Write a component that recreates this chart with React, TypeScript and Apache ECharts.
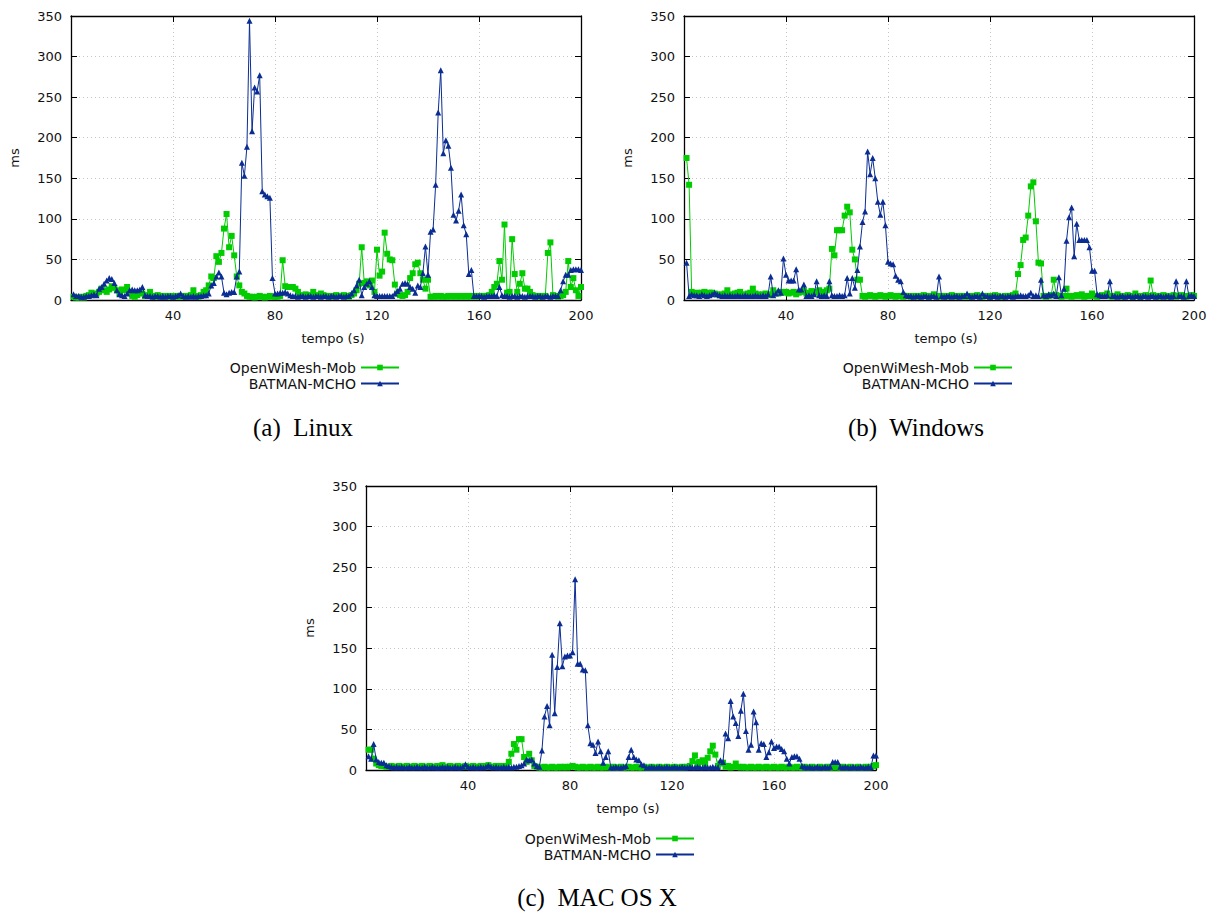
import React, { useEffect, useRef } from 'react';
import * as echarts from 'echarts';

const SERIES_NAMES = ['OpenWiMesh-Mob', 'BATMAN-MCHO'];
const CAPTIONS = ['(a)  Linux', '(b)  Windows', '(c)  MAC OS X'];
const X_NAME = 'tempo (s)';
const Y_NAME = 'ms';

// values for t = 1..200 s
const LINUX_OPEN = [
  4,3,3,4,3,5,6,9,7,8,
  10,14,12,10,13,17,15,12,8,13,
  12,16,10,5,4,6,10,8,5,6,
  10,5,4,6,5,4,5,5,4,5,
  4,5,4,5,4,5,6,12,5,4,
  6,10,12,18,29,27,54,47,58,88,
  106,65,79,55,29,18,10,8,5,4,
  4,3,4,5,4,3,4,5,4,4,
  4,5,49,17,16,16,16,14,10,6,
  5,7,5,6,10,6,5,8,6,5,
  5,4,5,6,5,5,6,5,4,6,
  8,12,20,65,21,23,18,24,10,62,
  30,35,83,57,50,49,19,8,6,5,
  6,10,27,33,44,46,33,25,14,25,
  4,4,5,4,5,4,4,5,4,5,
  4,5,4,5,4,5,4,5,4,5,
  5,5,5,6,10,16,20,48,25,93,
  9,10,75,32,10,20,33,14,14,10,
  6,5,5,4,5,5,58,71,6,5,
  4,5,6,10,48,16,27,12,5,16,
];
const LINUX_BATMAN = [
  7,5,5,4,4,5,5,6,7,6,
  14,16,20,24,27,26,21,12,7,6,
  5,8,12,13,12,12,13,16,6,5,
  5,4,5,5,4,5,4,5,5,4,
  5,6,8,5,4,5,4,5,4,5,
  5,6,6,8,18,21,29,34,29,9,
  7,9,10,10,29,35,169,153,189,344,
  208,262,257,277,134,130,128,126,27,8,
  8,9,9,10,8,6,5,5,4,5,
  5,4,5,5,4,5,5,4,5,5,
  4,5,5,4,5,5,4,5,5,8,
  12,18,25,6,16,20,23,16,6,5,
  5,5,5,5,5,5,8,11,14,20,
  21,20,16,14,9,18,16,33,66,31,
  84,87,142,231,283,181,197,190,163,105,
  98,110,130,92,81,32,37,5,5,5,
  5,4,5,5,5,6,5,16,6,5,
  5,4,5,5,4,5,5,4,5,5,
  5,4,5,5,4,5,5,4,5,5,
  5,12,23,31,31,37,38,38,38,37,
];
const WINDOWS_OPEN = [
  175,142,10,8,9,8,9,10,8,9,
  9,8,7,6,7,8,12,7,6,8,
  9,10,7,6,8,9,14,8,7,6,
  7,8,6,7,12,9,8,10,9,10,
  8,9,10,7,9,10,12,8,9,11,
  10,9,12,10,8,12,14,63,55,86,
  86,86,104,115,108,62,50,25,25,5,
  4,5,6,5,4,5,6,5,4,5,
  6,5,4,5,5,4,5,5,4,5,
  5,4,5,6,5,4,5,7,5,4,
  5,5,4,5,6,5,4,5,5,4,
  5,4,5,5,6,5,4,5,5,4,
  5,6,5,4,4,5,5,5,6,8,
  32,43,74,77,104,140,145,97,46,45,
  5,4,5,6,25,6,5,4,5,14,
  5,4,5,6,5,7,4,5,5,8,
  5,4,5,6,5,8,5,4,5,7,
  5,4,5,6,5,4,8,5,4,5,
  6,5,24,6,5,4,5,6,5,4,
  5,6,4,5,6,5,4,5,6,5,
];
const WINDOWS_BATMAN = [
  46,5,7,6,6,5,7,6,5,6,
  7,9,7,6,5,6,5,6,5,5,
  6,5,5,6,5,5,5,6,5,5,
  6,5,7,29,6,8,12,9,51,31,
  24,24,24,38,13,13,19,5,6,5,
  7,23,6,5,6,5,23,6,5,5,
  6,5,6,27,8,27,15,37,66,96,
  109,183,155,175,150,121,105,121,92,47,
  45,44,30,25,23,10,6,5,5,4,
  5,5,4,5,5,4,5,5,4,29,
  5,4,5,5,4,5,5,4,5,5,
  8,5,4,5,5,4,8,5,5,4,
  5,5,4,5,5,4,5,5,4,5,
  5,6,5,5,6,9,5,6,5,25,
  6,5,7,6,8,5,28,6,14,73,
  102,114,54,94,74,74,74,74,65,36,
  36,7,6,5,5,6,23,5,5,4,
  5,5,4,5,5,4,5,5,4,5,
  5,4,5,5,4,5,5,4,5,5,
  4,5,23,5,5,4,23,5,6,5,
];
const MAC_OPEN = [
  25,25,14,8,6,5,5,4,4,5,
  4,4,5,4,4,5,4,4,5,4,
  4,5,4,4,5,4,4,5,4,6,
  4,4,5,4,4,5,4,4,5,4,
  4,5,4,4,5,4,5,6,4,4,
  5,4,5,4,5,10,20,32,25,38,
  38,16,10,20,12,5,4,3,3,4,
  3,3,4,3,3,4,3,4,3,4,
  5,4,3,3,4,3,3,4,3,3,
  4,3,3,4,3,3,4,3,3,4,
  3,3,4,3,3,4,3,3,4,3,
  3,4,3,3,4,3,3,4,3,3,
  4,3,3,4,3,4,5,11,18,8,
  10,12,8,15,23,30,19,5,8,9,
  4,5,3,4,8,4,3,4,3,3,
  4,3,3,4,3,3,4,3,3,4,
  3,3,4,3,3,4,3,3,4,3,
  3,4,3,3,4,3,3,4,3,3,
  4,3,3,4,3,3,4,3,3,4,
  3,3,4,3,3,4,3,4,5,6,
];
const MAC_BATMAN = [
  17,14,32,13,10,9,9,6,5,4,
  3,4,3,4,3,3,4,3,3,4,
  3,3,4,3,3,4,3,3,3,4,
  3,4,3,3,4,3,3,4,7,4,
  3,4,3,3,4,3,4,6,4,3,
  4,3,3,4,3,4,3,4,4,5,
  6,8,13,12,13,8,5,4,24,66,
  79,55,142,70,127,181,128,140,141,141,
  145,235,131,131,124,123,55,33,31,21,
  35,23,9,16,23,3,3,4,3,3,
  4,5,16,25,16,13,12,7,6,3,
  3,4,3,3,4,3,3,4,3,3,
  4,3,3,4,3,3,4,3,3,4,
  3,3,4,3,3,4,3,3,12,10,
  45,39,85,66,58,42,73,94,48,25,
  31,72,59,25,33,32,16,22,35,27,
  29,29,26,23,14,8,16,17,17,14,
  5,4,3,4,3,3,4,3,3,4,
  3,4,10,10,10,4,3,4,3,3,
  4,3,3,4,3,3,4,3,18,18,
];

const PANELS = [
  { open: LINUX_OPEN, batman: LINUX_BATMAN },
  { open: WINDOWS_OPEN, batman: WINDOWS_BATMAN },
  { open: MAC_OPEN, batman: MAC_BATMAN },
];

const LAYOUT = [
  { left: 71, top: 16, legendRight: 822, legendTop: 360, capX: 303, capY: 427 },
  { left: 684, top: 16, legendRight: 209, legendTop: 360, capX: 916, capY: 427 },
  { left: 366, top: 486, legendRight: 527, legendTop: 831, capX: 597, capY: 897 },
];

const GREEN = '#00cc00';
const BLUE = '#0b2d93';
const FONT = 'DejaVu Sans';

export default function App() {
  const ref = useRef<HTMLDivElement>(null);

  useEffect(() => {
    if (!ref.current) return;
    const chart = echarts.init(ref.current, undefined, { renderer: 'svg' });

    const grids: any[] = [];
    const xAxes: any[] = [];
    const yAxes: any[] = [];
    const series: any[] = [];
    const legends: any[] = [];
    const graphics: any[] = [];

    const tickCommon = { show: true, inside: true, length: 6, lineStyle: { color: '#000', width: 1 } };
    const lineCommon = { show: true, onZero: false, lineStyle: { color: '#000', width: 1.3 } };
    const splitCommon = { show: true, lineStyle: { color: '#c4c4c4', width: 1, type: [1, 3] } };

    PANELS.forEach((p, i) => {
      const L = LAYOUT[i];
      grids.push({ left: L.left, top: L.top, width: 510, height: 284, containLabel: false });
      const xBase = { type: 'value', gridIndex: i, min: 0, max: 200, interval: 40 };
      const yBase = { type: 'value', gridIndex: i, min: 0, max: 350, interval: 50 };
      xAxes.push({
        ...xBase,
        position: 'bottom',
        axisLine: lineCommon,
        axisTick: tickCommon,
        splitLine: splitCommon,
        axisLabel: { showMinLabel: false, fontSize: 13, color: '#111', fontFamily: FONT, margin: 9 },
        name: X_NAME,
        nameLocation: 'middle',
        nameGap: 32,
        nameTextStyle: { fontSize: 13, color: '#111', fontFamily: FONT, padding: [0, 0, 0, 14] },
      });
      xAxes.push({
        ...xBase,
        position: 'top',
        axisLine: lineCommon,
        axisTick: tickCommon,
        splitLine: { show: false },
        axisLabel: { show: false },
      });
      yAxes.push({
        ...yBase,
        position: 'left',
        axisLine: lineCommon,
        axisTick: tickCommon,
        splitLine: splitCommon,
        axisLabel: { fontSize: 13, color: '#111', fontFamily: FONT, margin: 9 },
        name: Y_NAME,
        nameLocation: 'middle',
        nameGap: 50,
        nameRotate: 90,
        nameTextStyle: { fontSize: 13, color: '#111', fontFamily: FONT },
      });
      yAxes.push({
        ...yBase,
        position: 'right',
        axisLine: lineCommon,
        axisTick: tickCommon,
        splitLine: { show: false },
        axisLabel: { show: false },
      });

      series.push({
        name: SERIES_NAMES[0],
        type: 'line',
        xAxisIndex: i * 2,
        yAxisIndex: i * 2,
        data: p.open.map((v, k) => [k + 1, v]),
        symbol: 'rect',
        symbolSize: 6,
        showAllSymbol: true,
        lineStyle: { color: GREEN, width: 1 },
        itemStyle: { color: GREEN, borderWidth: 0 },
        z: 2,
      });
      series.push({
        name: SERIES_NAMES[1],
        type: 'line',
        xAxisIndex: i * 2,
        yAxisIndex: i * 2,
        data: p.batman.map((v, k) => [k + 1, v]),
        symbol: 'triangle',
        symbolSize: 6,
        showAllSymbol: true,
        lineStyle: { color: BLUE, width: 1 },
        itemStyle: { color: BLUE, borderWidth: 0 },
        z: 3,
      });

      legends.push({
        orient: 'vertical',
        align: 'right',
        right: L.legendRight,
        top: L.legendTop,
        itemGap: 1,
        itemWidth: 38,
        itemHeight: 7,
        padding: 0,
        selectedMode: false,
        data: SERIES_NAMES,
        textStyle: { fontSize: 14, lineHeight: 15, color: '#111', fontFamily: FONT },
      });

      graphics.push({
        type: 'text',
        x: L.capX,
        y: L.capY,
        style: {
          text: CAPTIONS[i],
          fontSize: 25,
          fontFamily: 'Liberation Serif',
          fill: '#000',
          align: 'center',
          verticalAlign: 'middle',
          textAlign: 'center',
          textVerticalAlign: 'middle',
        },
      });
    });

    chart.setOption({
      animation: false,
      backgroundColor: '#fff',
      textStyle: { fontFamily: FONT },
      grid: grids,
      xAxis: xAxes,
      yAxis: yAxes,
      series,
      legend: legends,
      graphic: graphics,
    });

    return () => chart.dispose();
  }, []);

  return (
    <div
      ref={ref}
      style={{ position: 'absolute', left: 0, top: 0, width: 1222, height: 914, background: '#fff' }}
    />
  );
}
